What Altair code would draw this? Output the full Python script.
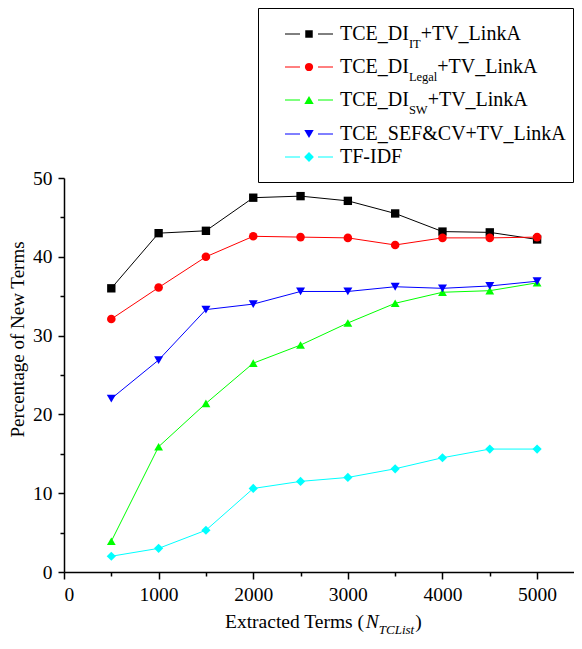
import altair as alt
import pandas as pd

# ---------------- data ----------------
x_terms = [500, 1000, 1500, 2000, 2500, 3000, 3500, 4000, 4500, 5000]
series = ["TCE_DI_IT+TV_LinkA", "TCE_DI_Legal+TV_LinkA", "TCE_DI_SW+TV_LinkA",
          "TCE_SEF&CV+TV_LinkA", "TF-IDF"]
vals_it = [36.0, 43.0, 43.3, 47.5, 47.7, 47.1, 45.5, 43.2, 43.1, 42.2]
vals_legal = [32.1, 36.1, 40.0, 42.6, 42.5, 42.4, 41.5, 42.4, 42.4, 42.5]
vals_sw = [3.9, 15.9, 21.4, 26.5, 28.8, 31.6, 34.1, 35.5, 35.7, 36.7]
vals_sef = [22.0, 26.9, 33.3, 34.0, 35.6, 35.6, 36.2, 36.0, 36.3, 36.9]
vals_tfidf = [2.0, 3.0, 5.3, 10.6, 11.5, 12.0, 13.1, 14.5, 15.6, 15.6]

colors = ["#000000", "#ff0000", "#00ff00", "#0000ff", "#00ffff"]
shapes = ["square", "circle", "triangle-up", "triangle-down", "diamond"]
sizes = [70, 85, 110, 110, 120]

# legend label pieces: (main, subscript, rest)
legend_parts = [("TCE_DI", "IT", "+TV_LinkA"),
                ("TCE_DI", "Legal", "+TV_LinkA"),
                ("TCE_DI", "SW", "+TV_LinkA"),
                ("TCE_SEF&CV+TV_LinkA", "", ""),
                ("TF-IDF", "", "")]
y_title = "Percentage of New Terms"
x_title_parts = ("Extracted Terms (", "N", "TCList", ")")
x_ticks = [0, 500, 1000, 1500, 2000, 2500, 3000, 3500, 4000, 4500, 5000]
y_ticks = [0, 5, 10, 15, 20, 25, 30, 35, 40, 45, 50]

FONT = "Liberation Serif"

rows = []
for name, vals in zip(series, [vals_it, vals_legal, vals_sw, vals_sef, vals_tfidf]):
    for xv, yv in zip(x_terms, vals):
        rows.append({"terms": xv, "pct": yv, "series": name})
df = pd.DataFrame(rows)

# ---------------- layout ----------------
PW, PH = 510, 394          # plot area
XMAX = 5390

REG = {'T': 611, 'C': 667, 'E': 611, '_': 500, 'D': 722, 'I': 333, '+': 564, 'V': 722,
       'L': 611, 'i': 278, 'n': 500, 'k': 500, 'A': 722, 'e': 444, 'g': 500, 'a': 444,
       'l': 278, 'S': 556, 'W': 944, 'F': 556, '&': 778, '-': 333, 'x': 500, 't': 278,
       'r': 333, 'c': 444, 'd': 500, ' ': 250, 'm': 778, 's': 389, '(': 333, ')': 333,
       'N': 722}
ITAL = {'N': 667, 'T': 556, 'C': 667, 'L': 556, 'i': 278, 's': 389, 't': 278}


def tw(s, size, italic=False):
    tab = ITAL if italic else REG
    return sum(tab.get(ch, 500) for ch in s) / 1000.0 * size


def piece(text, x, y, size, italic=False):
    return alt.Chart(pd.DataFrame({"t": [text]})).mark_text(
        align="left", baseline="alphabetic", font=FONT, fontSize=size,
        fontStyle="italic" if italic else "normal", color="black"
    ).encode(x=alt.value(x), y=alt.value(y), text="t:N")


x_scale = alt.Scale(domain=[0, XMAX], nice=False, zero=False)
y_scale = alt.Scale(domain=[0, 50], nice=False)

x_axis = alt.Axis(values=x_ticks, format="d", title=None,
                  labelExpr="datum.value % 1000 === 0 ? datum.label : ''",
                  tickSize=alt.condition("datum.value % 1000 === 0", alt.value(7), alt.value(4)),
                  labelPadding=6)
y_axis = alt.Axis(values=y_ticks, format="d", title=y_title,
                  labelExpr="datum.value % 10 === 0 ? datum.label : ''",
                  tickSize=alt.condition("datum.value % 10 === 0", alt.value(6), alt.value(4)),
                  labelPadding=6, titleX=-47, titleY=161, titleAngle=270,
                  titleAlign="center", titleBaseline="middle",
                  titleFont=FONT, titleFontSize=19, titleFontWeight="normal")

base = alt.Chart(df).encode(
    x=alt.X("terms:Q", scale=x_scale, axis=x_axis),
    y=alt.Y("pct:Q", scale=y_scale, axis=y_axis),
    color=alt.Color("series:N", scale=alt.Scale(domain=series, range=colors), legend=None),
)
lines = base.mark_line(strokeWidth=1).encode(detail="series:N")
points = base.mark_point(filled=True, opacity=1).encode(
    shape=alt.Shape("series:N", scale=alt.Scale(domain=series, range=shapes), legend=None),
    size=alt.Size("series:N", scale=alt.Scale(domain=series, range=sizes), legend=None),
)

# ---------------- legend (manual) ----------------
box = alt.Chart(pd.DataFrame({"a": [0]})).mark_rect(
    fill="white", stroke="black", strokeWidth=1
).encode(x=alt.value(194.5), x2=alt.value(509.5), y=alt.value(-169.5), y2=alt.value(4.5))

row_y = [-144, -111, -78, -44, -21]
seg_rows = []
pt_rows = []
for i, name in enumerate(series):
    seg_rows.append({"x1": 221, "x2": 236, "y": row_y[i], "c": colors[i]})
    seg_rows.append({"x1": 254, "x2": 269, "y": row_y[i], "c": colors[i]})
    pt_rows.append({"x": 245, "y": row_y[i], "c": colors[i], "s": shapes[i], "z": sizes[i] * 0.8})
leg_lines = alt.Chart(pd.DataFrame(seg_rows)).mark_rule(strokeWidth=1).encode(
    x=alt.X("x1:Q", scale=None), x2="x2:Q", y=alt.Y("y:Q", scale=None),
    color=alt.Color("c:N", scale=None))
leg_pts = alt.Chart(pd.DataFrame(pt_rows)).mark_point(filled=True, opacity=1).encode(
    x=alt.X("x:Q", scale=None), y=alt.Y("y:Q", scale=None),
    color=alt.Color("c:N", scale=None), shape=alt.Shape("s:N", scale=None),
    size=alt.Size("z:Q", scale=None))

LFS, LSUB = 20, 12.5
texts = []
for i, (a, b, c) in enumerate(legend_parts):
    bx = 276
    by = row_y[i] + 6
    texts.append(piece(a, bx, by, LFS))
    bx += tw(a, LFS)
    if b:
        texts.append(piece(b, bx, by + 8, LSUB))
        bx += tw(b, LSUB)
    if c:
        texts.append(piece(c, bx, by, LFS))

# ---------------- x title (manual, with subscript) ----------------
TFS, TSUB = 19.5, 13
tx, ty = 161, 450
p1, p2, p3, p4 = x_title_parts
texts.append(piece(p1, tx, ty, TFS))
tx += tw(p1, TFS)
texts.append(piece(p2, tx, ty, TFS, italic=True))
tx += tw(p2, TFS, True)
texts.append(piece(p3, tx, ty + 6, TSUB, italic=True))
tx += tw(p3, TSUB, True) + 1
texts.append(piece(p4, tx, ty, TFS))

chart = alt.layer(box, lines, points, leg_lines, leg_pts, *texts).properties(
    width=PW, height=PH,
    autosize=alt.AutoSizeParams(type="none"),
    padding={"left": 56, "top": 170, "right": 0, "bottom": 67},
).configure_axis(
    domainColor="black", domainWidth=1.5, tickColor="black", tickWidth=1.5,
    labelFont=FONT, labelFontSize=19.5, labelColor="black", grid=False,
    titleColor="black",
).configure_view(stroke=None)

chart.save("out.html", embed_options={"renderer": "svg", "actions": False})
